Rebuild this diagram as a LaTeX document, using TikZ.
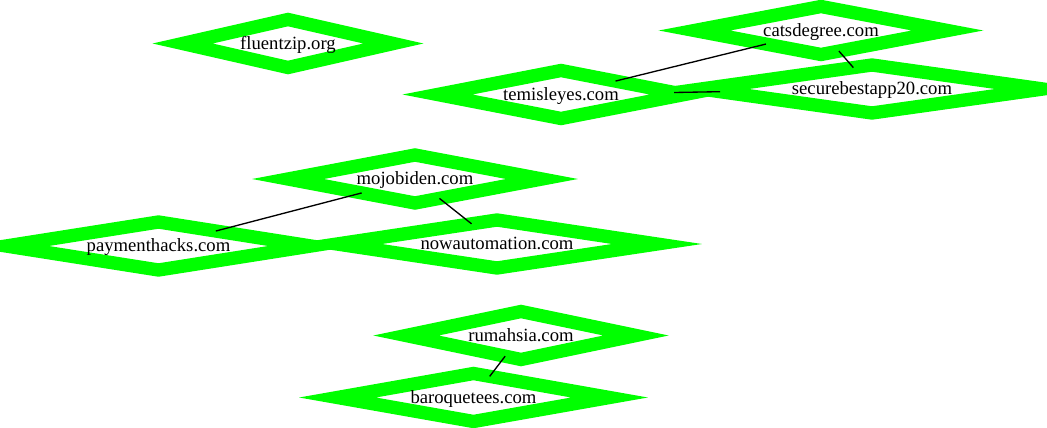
\documentclass[tikz,border=0pt]{standalone}
\usepackage{fontspec}
\setmainfont{Liberation Serif}
\usetikzlibrary{shapes.geometric}

\begin{document}
\begin{tikzpicture}[x=0.75pt,y=-0.75pt,
    site/.style={diamond, draw=green, line width=10pt, shape aspect=6, inner sep=0pt,
                 outer sep=0pt, minimum height=36pt, text height=11.4pt, text depth=3pt,
                 font=\fontsize{14pt}{16pt}\selectfont},
    link/.style={draw=black, line width=1pt}]
                \useasboundingbox (0,0) rectangle (1047,428);
                \clip (0,0) rectangle (1047,428);
                \node [site, minimum width=157.5pt] (fluentzip) at (288,43.5) {fluentzip.org};
                \node [site, minimum width=189.75pt] (catsdegree) at (821,30.5) {catsdegree.com};
                \node [site, minimum width=185.25pt] (temisleyes) at (561,94.5) {temisleyes.com};
                \node [site, minimum width=256.5pt] (securebestapp) at (872,89) {securebestapp20.com};
                \node [site, minimum width=190.5pt] (mojobiden) at (415,179) {mojobiden.com};
                \node [site, minimum width=228.75pt] (paymenthacks) at (158.5,246) {paymenthacks.com};
                \node [site, minimum width=240pt] (nowautomation) at (497,244) {nowautomation.com};
                \node [site, minimum width=172.5pt] (rumahsia) at (521,335.5) {rumahsia.com};
                \node [site, minimum width=204pt] (baroquetees) at (473.5,397.5) {baroquetees.com};
                \draw [link] (temisleyes) -- (catsdegree);
                \draw [link] (temisleyes) -- (securebestapp);
                \draw [link] (catsdegree) -- (securebestapp);
                \draw [link] (mojobiden) -- (paymenthacks);
                \draw [link] (mojobiden) -- (nowautomation);
                \draw [link] (rumahsia) -- (baroquetees);
            \end{tikzpicture}
\end{document}
